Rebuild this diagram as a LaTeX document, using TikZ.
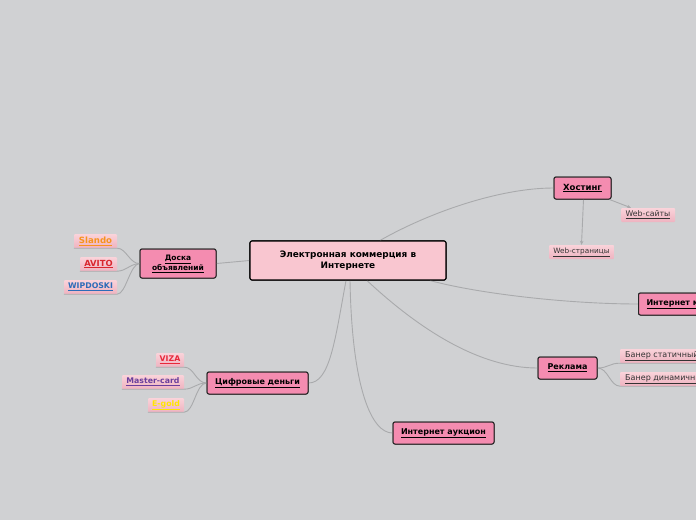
\documentclass[tikz,border=0pt]{standalone}
\usepackage{fontspec}
\setmainfont{DejaVu Sans}
\usetikzlibrary{calc,arrows.meta}
\definecolor{bg}{HTML}{D0D1D3}
\definecolor{mainpink}{HTML}{F9C6D0}
\definecolor{nodepink}{HTML}{F48CB0}
\definecolor{leaftop}{HTML}{FAD3DA}
\definecolor{leafbot}{HTML}{EEB3C0}
\definecolor{conn}{HTML}{A9AAAC}
\definecolor{cslando}{HTML}{F7931E}
\definecolor{cavito}{HTML}{D9262E}
\definecolor{cwip}{HTML}{2B6CB8}
\definecolor{cviza}{HTML}{E8283A}
\definecolor{cmaster}{HTML}{6A3E9C}
\definecolor{cegold}{HTML}{FFE600}
\definecolor{leaftext}{HTML}{333333}
\tikzset{
  mainbox/.style={draw=black, line width=1.1pt, rounded corners=2pt, fill=mainpink,
    minimum width=196pt, minimum height=39pt, inner sep=0pt, align=center,
    font=\fontsize{8.9pt}{11pt}\selectfont\bfseries},
  topic/.style={draw=black!85, line width=1pt, rounded corners=2pt, fill=nodepink,
    minimum height=22pt, inner sep=0pt, align=center,
    font=\fontsize{8pt}{9pt}\selectfont\bfseries},
  leaf/.style={top color=leaftop, bottom color=leafbot, minimum height=14pt,
    inner sep=0pt, rounded corners=1pt, align=center,
    font=\fontsize{7.8pt}{8pt}\selectfont},
  bleaf/.style={leaf, font=\fontsize{7.8pt}{8pt}\selectfont\bfseries},
  conline/.style={draw=conn, line width=0.9pt},
  arr/.style={conline, -{Stealth[length=4pt,width=3.5pt]}},
}
\begin{document}
\begin{tikzpicture}[x=1pt,y=-1pt]
\useasboundingbox (0,0) rectangle (696,520);
\fill[bg] (0,0) rectangle (696,520);
\clip (0,0) rectangle (696,520);

% nodes
\node[mainbox] (c) at (348,260.5) {Электронная коммерция в\\Интернете};
\node[topic, minimum width=57pt, font=\fontsize{8.5pt}{9pt}\selectfont\bfseries] (h) at (582.5,188) {\underline{Хостинг}};
\node[leaf, minimum width=54pt, text=leaftext] (wsa) at (648,215) {\underline{Web-сайты}};
\node[leaf, minimum width=65pt, text=leaftext, font=\fontsize{7.3pt}{8pt}\selectfont] (wst) at (581.5,252) {\underline{Web-страницы}};
\node[topic, minimum width=76pt, minimum height=29pt, font=\fontsize{7.5pt}{9pt}\selectfont\bfseries] (d) at (178,263.5) {\underline{Доска}\\\underline{объявлений}};
\node[bleaf, minimum width=43pt, text=cslando, font=\fontsize{8.6pt}{8pt}\selectfont\bfseries] (sl) at (95.5,241) {\underline{Slando}};
\node[bleaf, minimum width=37pt, text=cavito, font=\fontsize{8.4pt}{8pt}\selectfont\bfseries] (av) at (98.5,264) {\underline{AVITO}};
\node[bleaf, minimum width=53pt, text=cwip] (wp) at (90.5,287) {\underline{WIPDOSKI}};
\node[topic, inner xsep=8pt, anchor=west] (im) at (638,304) {\underline{Интернет магазин}};
\node[topic, minimum width=59pt] (r) at (567.5,368) {\underline{Реклама}};
\node[leaf, anchor=west, inner xsep=5pt, text=leaftext, font=\fontsize{8pt}{8pt}\selectfont] (bs) at (620,356) {\underline{Банер статичный}\hspace*{10pt}};
\node[leaf, anchor=west, inner xsep=5pt, text=leaftext, font=\fontsize{8pt}{8pt}\selectfont] (bd) at (620,379) {\underline{Банер динамичный}\hspace*{10pt}};
\node[topic, minimum width=101pt] (cd) at (257.5,383) {\underline{Цифровые деньги}};
\node[bleaf, minimum width=28pt, text=cviza] (vz) at (170,360) {\underline{VIZA}};
\node[bleaf, minimum width=62pt, text=cmaster] (mc) at (153,382) {\underline{Master-card}};
\node[bleaf, minimum width=36pt, text=cegold] (eg) at (166,405) {\underline{E-gold}};
\node[topic, minimum width=101pt] (ia) at (443.5,433) {\underline{Интернет аукцион}};

% connectors from centre
\draw[conline] ([xshift=32pt]c.north) .. controls (430,212) and (500,188) .. (h.west);
\draw[conline] ([xshift=82pt]c.south) .. controls (480,294) and (570,304) .. (im.west);
\draw[conline] ([xshift=19pt]c.south) .. controls (420,330) and (480,368) .. (r.west);
\draw[conline] ([xshift=-2pt]c.south) .. controls (335,340) and (330,383) .. (cd.east);
\draw[conline] ([xshift=2pt]c.south) .. controls (352,390) and (372,433) .. (ia.west);
\draw[conline] (c.west) -- (d.east);

% Hosting children
\draw[arr] ([xshift=1pt]h.south) -- (wst.north);
\draw[arr] ([xshift=-2pt]h.south east) -- ([xshift=-17pt]wsa.north);

% Doska children
\draw[conline] (d.west) .. controls (130,264) and (126,248) .. (sl.south east) -- (sl.south west);
\draw[conline] (d.west) .. controls (130,264) and (126,271) .. (av.south east) -- (av.south west);
\draw[conline] (d.west) .. controls (130,264) and (126,294) .. (wp.south east) -- (wp.south west);

% Reklama children
\draw[conline] (r.east) .. controls (608,368) and (610,363) .. (bs.south west) -- (bs.south east);
\draw[conline] (r.east) .. controls (608,368) and (610,386) .. (bd.south west) -- (bd.south east);

% Digital money children
\draw[conline] (cd.west) .. controls (196,383) and (194,367) .. (vz.south east) -- (vz.south west);
\draw[conline] (cd.west) .. controls (196,383) and (194,389) .. (mc.south east) -- (mc.south west);
\draw[conline] (cd.west) .. controls (196,383) and (194,412) .. (eg.south east) -- (eg.south west);

% redraw nodes on top of connectors
\node[mainbox] at (c) {Электронная коммерция в\\Интернете};
\node[topic, minimum width=57pt, font=\fontsize{8.5pt}{9pt}\selectfont\bfseries] at (h) {\underline{Хостинг}};
\node[topic, minimum width=76pt, minimum height=29pt, font=\fontsize{7.5pt}{9pt}\selectfont\bfseries] at (d) {\underline{Доска}\\\underline{объявлений}};
\node[topic, minimum width=59pt] at (r) {\underline{Реклама}};
\node[topic, minimum width=101pt] at (cd) {\underline{Цифровые деньги}};
\node[topic, minimum width=101pt] at (ia) {\underline{Интернет аукцион}};
\node[topic, inner xsep=8pt, anchor=west] at (638,304) {\underline{Интернет магазин}};
\end{tikzpicture}
\end{document}
